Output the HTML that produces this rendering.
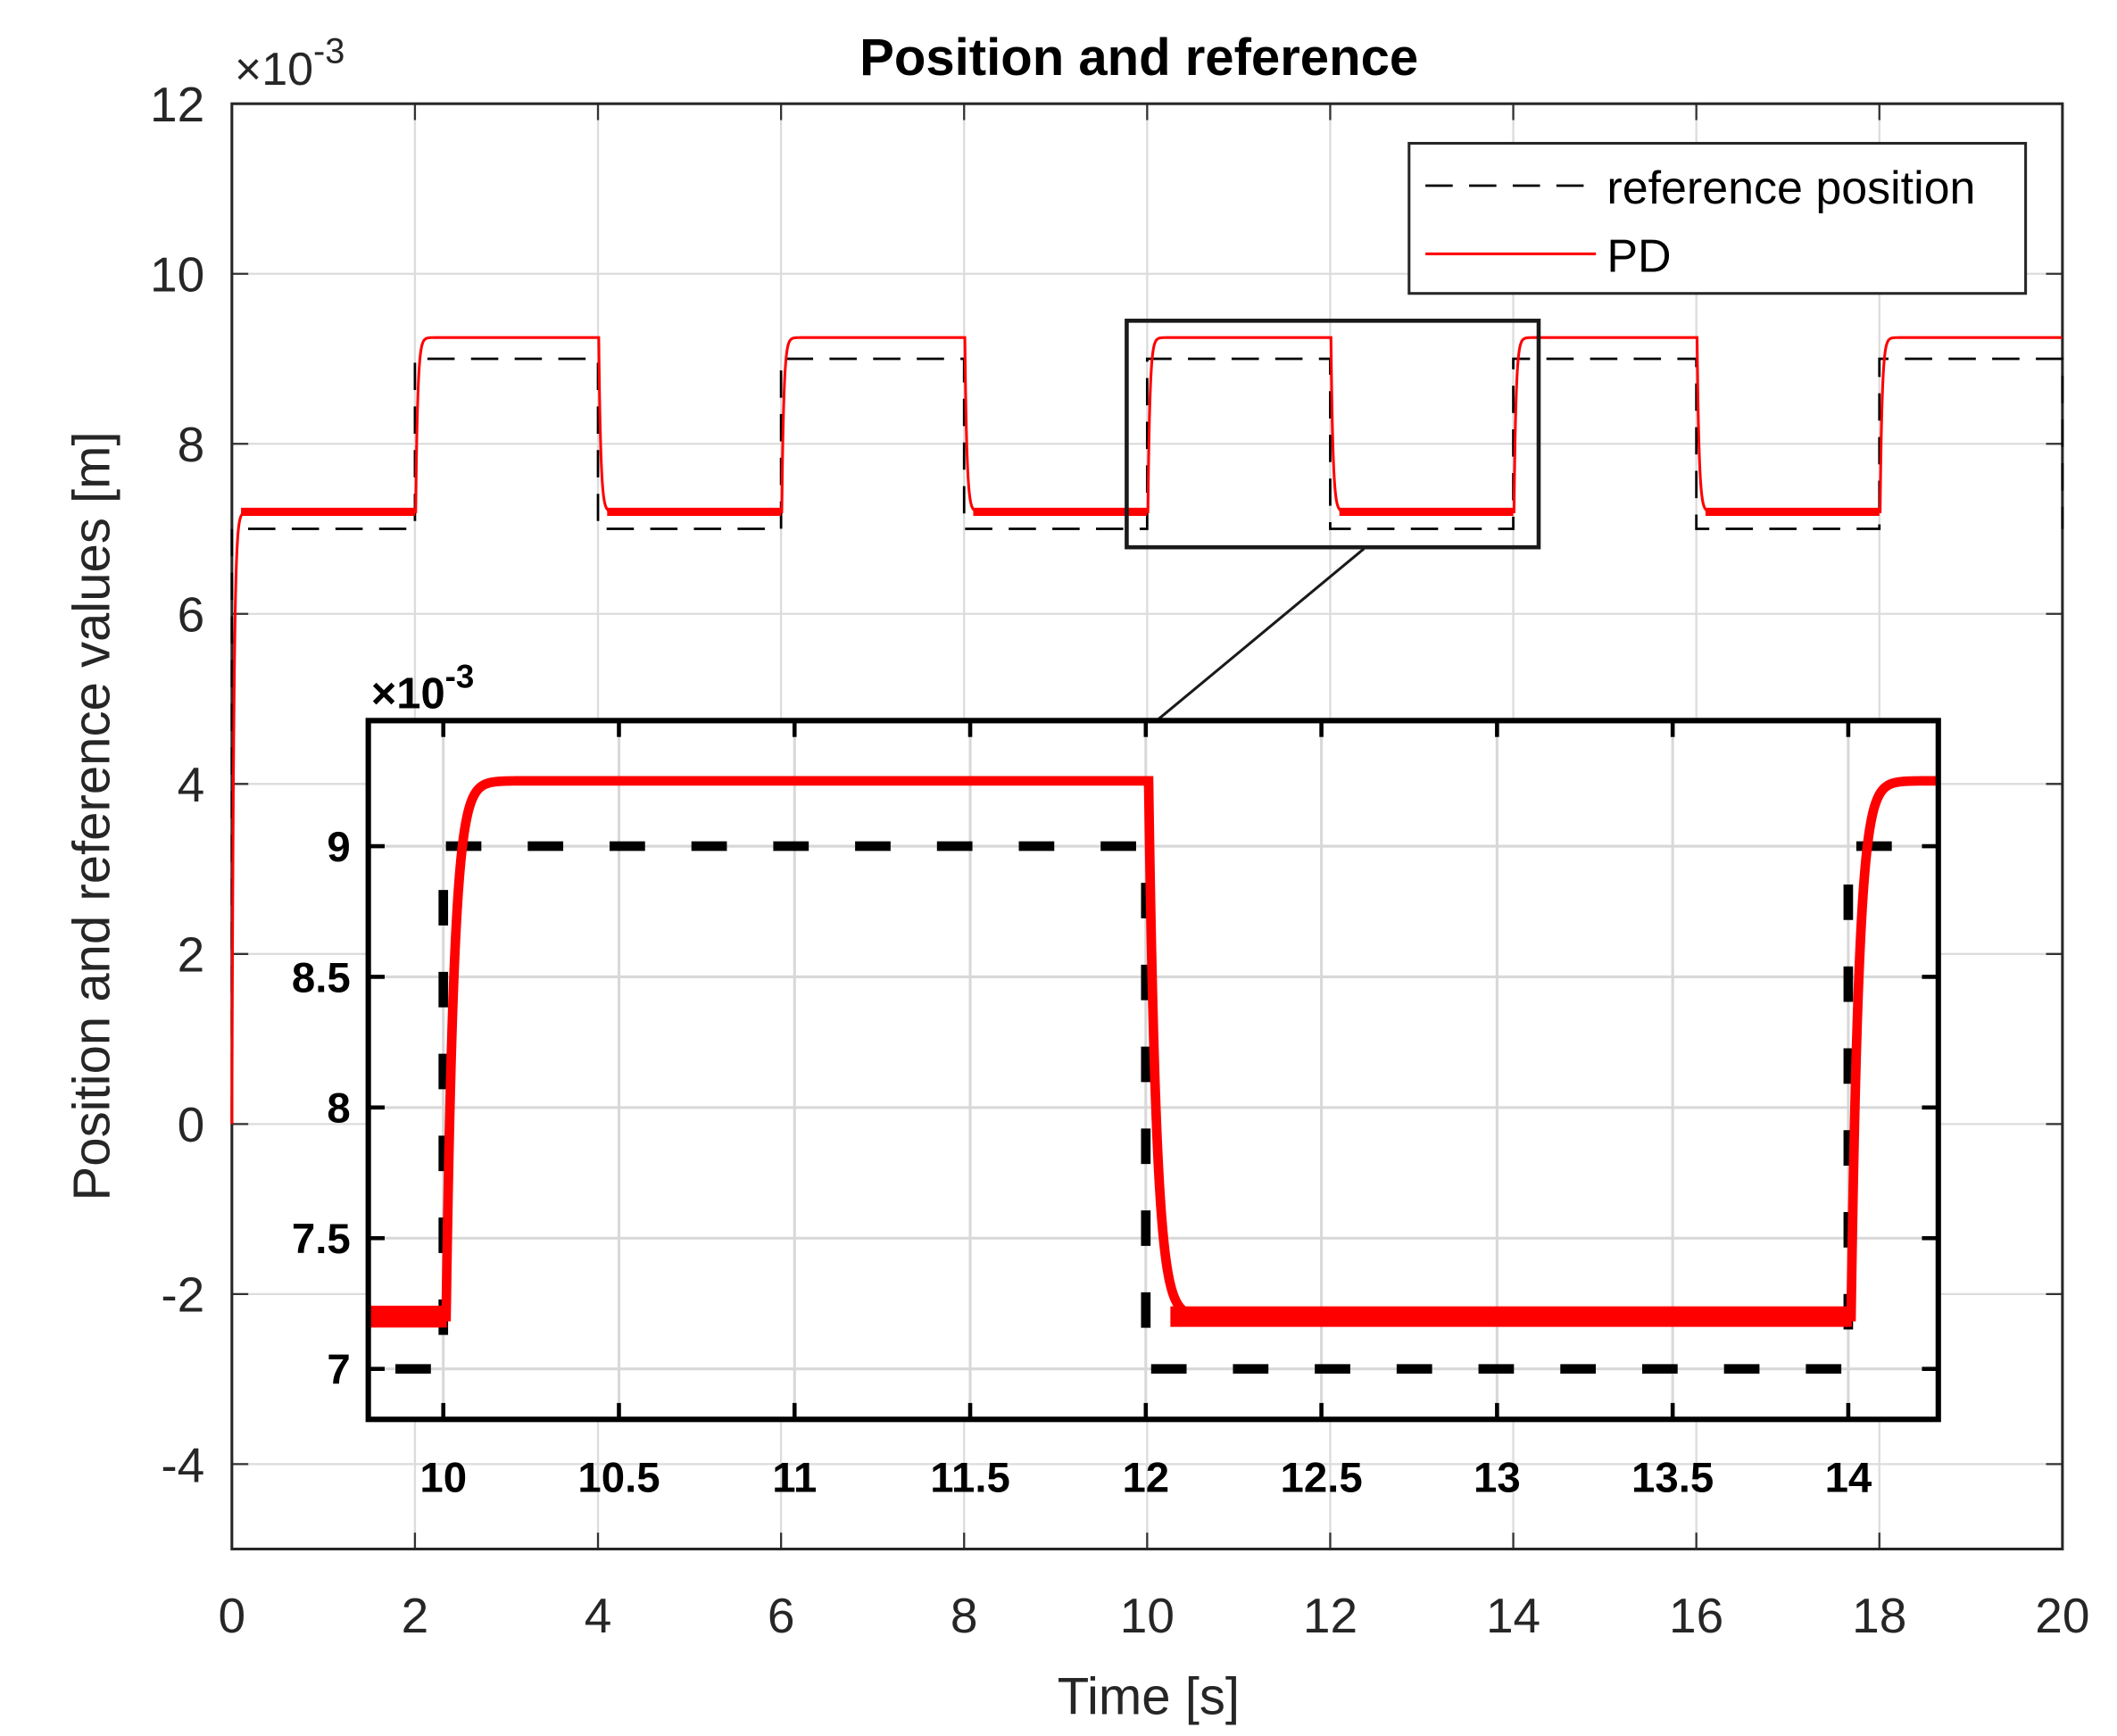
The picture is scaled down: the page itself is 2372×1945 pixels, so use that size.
<!DOCTYPE html>
<html><head><meta charset="utf-8"><style>
html,body{margin:0;padding:0;background:#fff;width:2372px;height:1945px;overflow:hidden}
svg{display:block}
text{font-family:"Liberation Sans",sans-serif}
</style></head><body>
<svg id="s" width="2372" height="1945" viewBox="0 0 1552 1272" preserveAspectRatio="none" xmlns="http://www.w3.org/2000/svg">
<rect width="1552" height="1272" fill="#fff"/>
<g id="main"></g>
<g id="inset"></g>
</svg>
<script>
const NS="http://www.w3.org/2000/svg";
function el(p,t,a,txt){const e=document.createElementNS(NS,t);for(const k in a)e.setAttribute(k,a[k]);if(txt!==undefined)e.textContent=txt;p.appendChild(e);return e;}
const M=document.getElementById('main'),I=document.getElementById('inset');
const L=170,R=1512,T=76,B=1135;
const mx=t=>L+(R-L)*t/20, my=v=>76+(12-v)*62.3;
for(let t=0;t<=20;t+=2){const x=mx(t);el(M,'line',{x1:x,y1:T,x2:x,y2:B,stroke:'#dcdcdc','stroke-width':1.5});
 el(M,'line',{x1:x,y1:B,x2:x,y2:B-12,stroke:'#333','stroke-width':1.5});el(M,'line',{x1:x,y1:T,x2:x,y2:T+12,stroke:'#333','stroke-width':1.5});
 el(M,'text',{x:x,y:1196,'font-size':36,'text-anchor':'middle',fill:'#262626'},t);}
for(let v=-4;v<=12;v+=2){const y=my(v);el(M,'line',{x1:L,y1:y,x2:R,y2:y,stroke:'#dcdcdc','stroke-width':1.5});
 el(M,'line',{x1:L,y1:y,x2:L+12,y2:y,stroke:'#333','stroke-width':1.5});el(M,'line',{x1:R,y1:y,x2:R-12,y2:y,stroke:'#333','stroke-width':1.5});
 el(M,'text',{x:150,y:y+13,'font-size':36,'text-anchor':'end',fill:'#262626'},v);}
el(M,'rect',{x:L,y:T,width:R-L,height:B-T,fill:'none',stroke:'#262626','stroke-width':2});
el(M,'text',{x:835,y:55,'font-size':38,'font-weight':'bold','text-anchor':'middle',fill:'#000'},'Position and reference');
const xm=el(M,'text',{x:172,y:62,'font-size':34,fill:'#262626'},'×10');el(xm,'tspan',{dy:-16,'font-size':26},'-3');
el(M,'text',{x:842,y:1256,'font-size':38,'text-anchor':'middle',fill:'#262626'},'Time [s]');
el(M,'text',{x:0,y:0,'font-size':38,'text-anchor':'middle',fill:'#262626',transform:'translate(80,598) rotate(-90)'},'Position and reference values [m]');
function refv(t){if(t<2)return 7;return (Math.floor(t/2)%2===1)?9:7;}
function pd(t,tau){if(t<0)return 0;
 let v=7.2*(1-Math.exp(-t/0.02));
 for(let k=2;k<=t;k+=2){const tgt=(Math.floor(k/2)%2===1)?9.25:7.2;const prev=(tgt===9.25)?7.2:9.25;const s=Math.max(0,t-k-0.008);v=prev+(tgt-prev)*(1-Math.exp(-s/tau));}
 return v;}
let d='M'+mx(0)+','+my(0)+'L'+mx(0)+','+my(7);
for(let k=2;k<=20;k+=2){d+='L'+mx(k)+','+my(refv(k-0.001))+'L'+mx(k)+','+my(k<20?refv(k):7);}
el(M,'path',{d:d,fill:'none',stroke:'#000','stroke-width':1.8,'stroke-dasharray':'20,12'});
let p='';for(let t=0;t<=20;t+=0.004){p+=(p?'L':'M')+mx(t).toFixed(2)+','+my(pd(t,0.022)).toFixed(2);}
el(M,'path',{d:p,fill:'none',stroke:'#f00','stroke-width':2});
for(let k of [0,4,8,12,16]){const a=k===0?0.1:k+0.1;el(M,'line',{x1:mx(a),y1:my(7.2),x2:mx(k+2),y2:my(7.2),stroke:'#f00','stroke-width':6});}
el(M,'rect',{x:826,y:235,width:302,height:166,fill:'none',stroke:'#1a1a1a','stroke-width':3});
el(M,'line',{x1:1000,y1:402,x2:848,y2:528,stroke:'#1a1a1a','stroke-width':2});
el(M,'rect',{x:1033,y:105,width:452,height:110,fill:'#fff',stroke:'#262626','stroke-width':2});
el(M,'line',{x1:1045,y1:136,x2:1170,y2:136,stroke:'#000','stroke-width':1.8,'stroke-dasharray':'20,12'});
el(M,'line',{x1:1045,y1:186,x2:1170,y2:186,stroke:'#f00','stroke-width':2});
el(M,'text',{x:1178,y:149,'font-size':34,fill:'#000'},'reference position');
el(M,'text',{x:1178,y:199,'font-size':34,fill:'#000'},'PD');
const iL=270,iR=1421,iT=528,iB=1040;
const ix=t=>325+(t-10)*257.5, iy=v=>620-(v-9)*191.5;
el(I,'rect',{x:iL,y:iT,width:iR-iL,height:iB-iT,fill:'#fff'});
for(let t=10;t<=14;t+=0.5){const x=ix(t);el(I,'line',{x1:x,y1:iT,x2:x,y2:iB,stroke:'#d8d8d8','stroke-width':2});
 el(I,'line',{x1:x,y1:iT,x2:x,y2:iT+12,stroke:'#000','stroke-width':3});el(I,'line',{x1:x,y1:iB,x2:x,y2:iB-12,stroke:'#000','stroke-width':3});
 el(I,'text',{x:x,y:1093,'font-size':31,'font-weight':'bold','text-anchor':'middle',fill:'#000'},String(t));}
for(let v=7;v<=9;v+=0.5){const y=iy(v);el(I,'line',{x1:iL,y1:y,x2:iR,y2:y,stroke:'#d8d8d8','stroke-width':2});
 el(I,'line',{x1:iL,y1:y,x2:iL+12,y2:y,stroke:'#000','stroke-width':3});el(I,'line',{x1:iR,y1:y,x2:iR-12,y2:y,stroke:'#000','stroke-width':3});
 el(I,'text',{x:257,y:y+11,'font-size':31,'font-weight':'bold','text-anchor':'end',fill:'#000'},String(v));}
let rd='M'+ix(9.786)+','+iy(7)+'L'+ix(10)+','+iy(7)+'L'+ix(10)+','+iy(9)+'L'+ix(12)+','+iy(9)+'L'+ix(12)+','+iy(7)+'L'+ix(14)+','+iy(7)+'L'+ix(14)+','+iy(9)+'L'+ix(14.256)+','+iy(9);
el(I,'path',{d:rd,fill:'none',stroke:'#000','stroke-width':7,'stroke-dasharray':'26,34','stroke-dashoffset':'-20'});
let ip='';for(let t=9.786;t<=14.256;t+=0.001){ip+=(ip?'L':'M')+ix(t).toFixed(2)+','+iy(pd(t,0.022)).toFixed(2);}
el(I,'path',{d:ip,fill:'none',stroke:'#f00','stroke-width':7});
el(I,'line',{x1:ix(9.786),y1:iy(7.2),x2:ix(10.01),y2:iy(7.2),stroke:'#f00','stroke-width':16});
el(I,'line',{x1:ix(12.07),y1:iy(7.2),x2:ix(14.01),y2:iy(7.2),stroke:'#f00','stroke-width':15});
el(I,'rect',{x:iL,y:iT,width:iR-iL,height:iB-iT,fill:'none',stroke:'#000','stroke-width':4});
const ixm=el(I,'text',{x:272,y:519,'font-size':32,'font-weight':'bold',fill:'#000'},'×10');el(ixm,'tspan',{dy:-15,'font-size':24},'-3');
</script>
</body></html>
